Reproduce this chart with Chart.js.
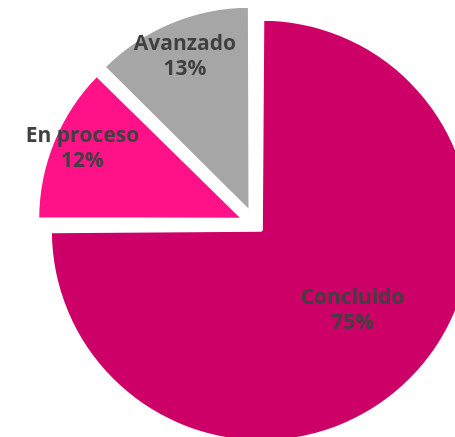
<!DOCTYPE html>
<html>
<head>
<meta charset="utf-8">
<script src="https://cdn.jsdelivr.net/npm/chart.js@4.4.0/dist/chart.umd.min.js"></script>
<style>
  html, body { margin: 0; padding: 0; background: #ffffff; overflow: hidden; width: 455px; height: 437px; }
  #wrap { position: absolute; left: 0; top: 0; width: 510px; height: 448px; }
</style>
</head>
<body>
<div id="wrap"><canvas id="c" width="510" height="448"></canvas></div>
<script>
const categories = ['Concluido', 'En proceso', 'Avanzado'];
const values = [75, 12.4, 12.6];
const percentLabels = ['75%', '12%', '13%'];

const sliceColors = ['#CC0066', '#FF1188', '#A6A6A6'];
const sliceOffsets = [36, 50, 52];
const labelRadialFraction = [0.598, 0.873, 0.84];
const labelAngleShiftDeg = [-3.8, 1.7, 0.1];

const labelPlugin = {
  id: 'sliceLabels',
  afterDatasetsDraw(chart) {
    const ctx = chart.ctx;
    const meta = chart.getDatasetMeta(0);
    ctx.save();
    ctx.font = 'bold 21px "Open Sans", sans-serif';
    ctx.fillStyle = '#404040';
    ctx.textAlign = 'center';
    ctx.textBaseline = 'middle';
    meta.data.forEach((arc, i) => {
      const mid = (arc.startAngle + arc.endAngle) / 2 + labelAngleShiftDeg[i] * Math.PI / 180;
      const t = (arc.options.offset || 0) / 4;
      const d = t + labelRadialFraction[i] * arc.outerRadius;
      const x = arc.x + Math.cos(mid) * d;
      const y = arc.y + Math.sin(mid) * d;
      ctx.fillText(categories[i], x, y - 11);
      ctx.fillText(percentLabels[i], x, y + 14);
    });
    ctx.restore();
  }
};

new Chart(document.getElementById('c'), {
  type: 'pie',
  data: {
    labels: categories,
    datasets: [{
      data: values,
      backgroundColor: sliceColors,
      borderColor: '#ffffff',
      borderWidth: 3,
      offset: sliceOffsets,
      hoverOffset: 0
    }]
  },
  options: {
    responsive: false,
    animation: false,
    radius: 202,
    layout: { padding: 0 },
    plugins: {
      legend: { display: false },
      tooltip: { enabled: false }
    }
  },
  plugins: [labelPlugin]
});
</script>
</body>
</html>
